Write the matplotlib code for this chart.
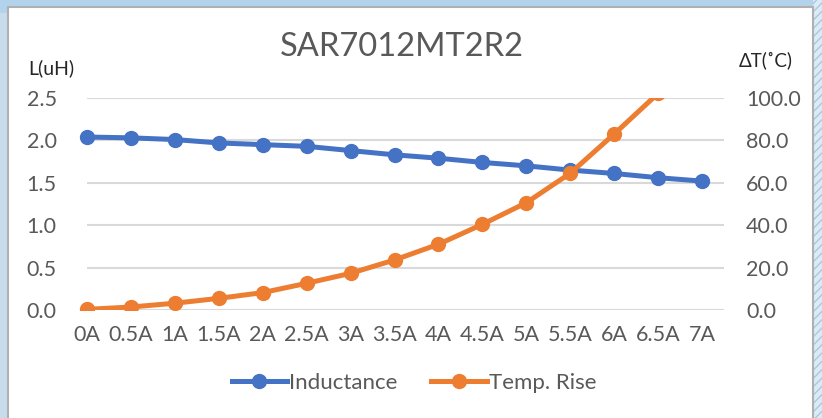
import matplotlib.pyplot as plt
from matplotlib.patches import Rectangle
from matplotlib.lines import Line2D

# data
currents = ['0A', '0.5A', '1A', '1.5A', '2A', '2.5A', '3A', '3.5A',
            '4A', '4.5A', '5A', '5.5A', '6A', '6.5A', '7A']
inductance = [2.04, 2.03, 2.01, 1.97, 1.95, 1.93, 1.88, 1.83,
              1.79, 1.74, 1.70, 1.65, 1.61, 1.56, 1.52]
temp_rise = [0.3, 1.4, 3.2, 5.5, 8.2, 12.6, 17.3, 23.6,
             31.0, 40.4, 50.6, 64.5, 83.0, 102.2, 125.0]

BLUE = '#4472C4'
ORANGE = '#ED7D31'
GREY_TXT = '#595959'
GRID = '#D9D9D9'

plt.rcParams['font.family'] = ['Lato', 'DejaVu Sans']

fig = plt.figure(figsize=(8.22, 4.18), dpi=100)
fig.patch.set_facecolor('#EAF3FB')

# screenshot frame around the chart
fig.patches.append(Rectangle((0, 0.97), 1, 0.03, transform=fig.transFigure,
                             facecolor='#B3D3EC', edgecolor='none', zorder=0))
fig.patches.append(Rectangle((0.989, 0), 0.011, 1, transform=fig.transFigure,
                             facecolor='#DCEAF6', edgecolor='#A9C8E2', hatch='////',
                             linewidth=0, zorder=0))
fig.patches.append(Rectangle((0, 0), 0.008, 0.97, transform=fig.transFigure,
                             facecolor='#C9DCEB', edgecolor='none', zorder=0))
fig.patches.append(Rectangle((8 / 822, -0.01), 805 / 822, 0.01 + 1 - 7 / 418,
                             transform=fig.transFigure, facecolor='white',
                             edgecolor='#B0B0B0', linewidth=1.5, zorder=1))

ax = fig.add_axes([65 / 822, 108 / 418, 659 / 822, 212 / 418])
ax.set_zorder(2)
ax.patch.set_alpha(0)
x = list(range(len(currents)))

ax.set_xlim(-0.5, len(currents) - 0.5)
ax.set_ylim(0, 2.5)
yt = [0, 0.5, 1.0, 1.5, 2.0, 2.5]
ax.set_yticks(yt)
ax.set_yticklabels([f'{v:.1f}' for v in yt])
ax.hlines(yt, 0, len(currents) - 0.5, color=GRID, linewidth=1.5, zorder=0)

ax.plot(x, inductance, color=BLUE, linewidth=3.6, marker='o', markersize=10,
        solid_capstyle='round', zorder=3)

ax2 = ax.twinx()
ax2.set_ylim(0, 100)
rt = [0, 20, 40, 60, 80, 100]
ax2.set_yticks(rt)
ax2.set_yticklabels([f'{v:.1f}' for v in rt])
ax2.plot(x, temp_rise, color=ORANGE, linewidth=3.6, marker='o', markersize=10,
         solid_capstyle='round', zorder=3)

ax.set_xticks(x)
ax.set_xticklabels(currents)

for a in (ax, ax2):
    for s in a.spines.values():
        s.set_visible(False)
    a.tick_params(length=0, labelsize=15.5, labelcolor=GREY_TXT)
ax.tick_params(axis='y', pad=6)
ax.tick_params(axis='x', pad=11)
ax2.tick_params(axis='y', pad=16)

fig.text(402 / 822, 1 - 47 / 418, 'SAR7012MT2R2', fontsize=23.5, color=GREY_TXT,
         ha='center', va='center')
fig.text(28 / 822, 1 - 68 / 418, 'L(uH)', fontsize=14, color='#262626',
         ha='left', va='center')
fig.text(766 / 822, 1 - 60 / 418, 'ΔT(˚C)', fontsize=13.5, color='#262626',
         ha='center', va='center')

handles = [Line2D([], [], color=BLUE, linewidth=3.6, marker='o', markersize=10),
           Line2D([], [], color=ORANGE, linewidth=3.6, marker='o', markersize=10)]
fig.legend(handles, ['Inductance', 'Temp. Rise'], loc='center',
           bbox_to_anchor=(414 / 822, 1 - 383 / 418), ncol=2, frameon=False,
           fontsize=16, labelcolor=GREY_TXT, handlelength=2.5, handletextpad=0.1,
           columnspacing=1.5)

fig.savefig('out.png', dpi=100)
